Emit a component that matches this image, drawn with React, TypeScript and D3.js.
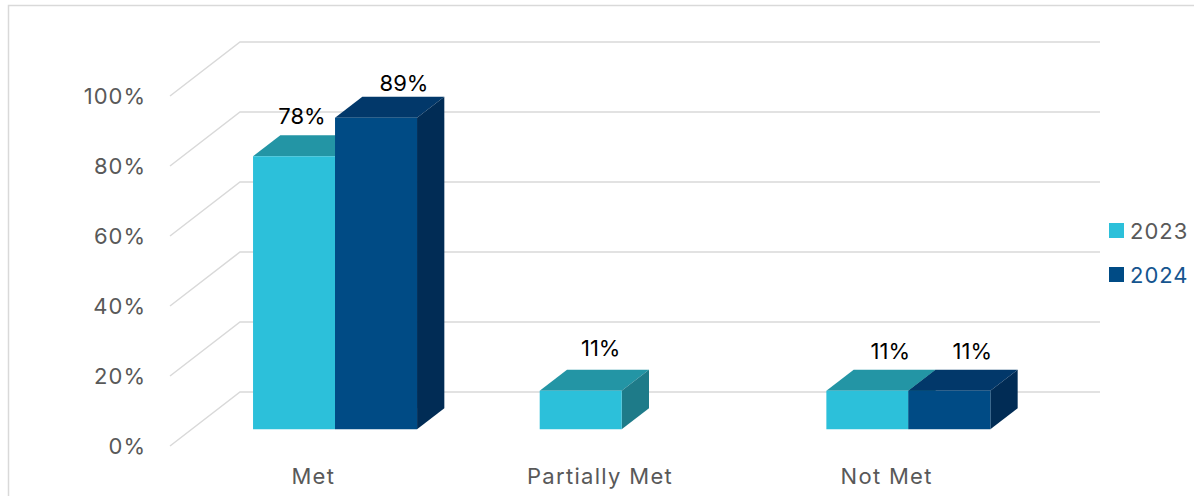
import React from "react";
import * as d3 from "d3";

const categories = ["Met", "Partially Met", "Not Met"];
const seriesNames = ["2023", "2024"];
const values2023: (number | null)[] = [0.78, 0.11, 0.11];
const values2024: (number | null)[] = [0.89, null, 0.11];
const yTicks = [0, 0.2, 0.4, 0.6, 0.8, 1.0];

// label nudges (layout only), keyed "category|series"
const labelNudge: Record<string, [number, number]> = {
  "Met|2023": [-15, 0],
  "Met|2024": [5, 5],
  "Partially Met|2023": [-3, -3],
};

const colors: Record<string, { front: string; top: string; side: string }> = {
  "2023": { front: "#2CC0DA", top: "#2395A5", side: "#1E7B89" },
  "2024": { front: "#004B85", top: "#02386A", side: "#012C55" },
};
const legendText: Record<string, string> = { "2023": "#595959", "2024": "#15558F" };

const W = 1194;
const H = 496;
const FONT = "Inter, 'Noto Sans', sans-serif";

export default function App() {
  const x0 = 170;
  const x1 = 1030;
  const floorY = 446;
  const DX = 70;
  const DY = -54;
  const t0 = 0.31;
  const t1 = 0.7;

  const xCat = d3.scaleBand<string>().domain(categories).range([x0, x1]).padding(0);
  const y = d3.scaleLinear().domain([0, 1]).range([0, 350]);
  const barW = 82;

  const proj = (x: number, v: number, t: number): [number, number] => [x + DX * t, floorY - y(v) + DY * t];
  const poly = (pts: [number, number][]) => pts.map((p) => p.join(",")).join(" ");

  const bars: any[] = [];
  const labels: any[] = [];
  const seriesData: Record<string, (number | null)[]> = { "2023": values2023, "2024": values2024 };

  categories.forEach((c, ci) => {
    const center = (xCat(c) as number) + xCat.bandwidth() / 2;
    const xs = d3.scaleBand<string>().domain(seriesNames).range([center - barW, center + barW]);
    seriesNames.forEach((s) => {
      const v = seriesData[s][ci];
      if (v == null) return;
      const left = xs(s) as number;
      const right = left + xs.bandwidth();
      const col = colors[s];
      const fBL = proj(left, 0, t0);
      const fBR = proj(right, 0, t0);
      const fTL = proj(left, v, t0);
      const fTR = proj(right, v, t0);
      const bTL = proj(left, v, t1);
      const bTR = proj(right, v, t1);
      const bBR = proj(right, 0, t1);
      bars.push(
        <g key={`${c}-${s}`}>
          <polygon points={poly([fTL, fTR, bTR, bTL])} fill={col.top} />
          <polygon points={poly([fTR, fBR, bBR, bTR])} fill={col.side} />
          <polygon points={poly([fBL, fBR, fTR, fTL])} fill={col.front} />
        </g>
      );
      const nudge = labelNudge[`${c}|${s}`] || [0, 0];
      const lx = (left + right) / 2 + DX * t0 + 23 + nudge[0];
      const ly = bTL[1] - 11 + nudge[1];
      labels.push(
        <text key={`l-${c}-${s}`} x={lx} y={ly} textAnchor="middle" fontSize={22} fill="#000" fontFamily={FONT}>
          {d3.format(".0%")(v)}
        </text>
      );
    });
  });

  return (
    <svg width={W} height={H} style={{ position: "absolute", left: 0, top: 0, background: "#fff" }}>
      <rect x={8.5} y={5.5} width={1200} height={520} fill="#fff" stroke="#d9d9d9" strokeWidth={1.5} />
      {yTicks.map((v) => {
        const a = proj(x0, v, 0);
        const b = proj(x0, v, 1);
        const c = proj(x1, v, 1);
        return (
          <polyline key={v} points={poly([a, b, c])} fill="none" stroke="#d9d9d9" strokeWidth={1.5} />
        );
      })}
      {yTicks.map((v) => {
        const a = proj(x0, v, 0);
        return (
          <text key={`t${v}`} x={146} y={a[1]} textAnchor="end" dominantBaseline="central" fontSize={22} letterSpacing={1} fill="#595959" fontFamily={FONT}>
            {d3.format(".0%")(v)}
          </text>
        );
      })}
      {bars}
      {labels}
      {categories.map((c) => (
        <text key={`c${c}`} x={(xCat(c) as number) + xCat.bandwidth() / 2} y={476} textAnchor="middle" dominantBaseline="central" fontSize={22} letterSpacing={1.3} fill="#595959" fontFamily={FONT}>
          {c}
        </text>
      ))}
      {seriesNames.map((s, i) => (
        <g key={`lg${s}`} transform={`translate(1109, ${223 + i * 44})`}>
          <rect width={15} height={15} fill={colors[s].front} />
          <text x={21} y={7.5} dominantBaseline="central" fontSize={22} letterSpacing={1} fill={legendText[s]} fontFamily={FONT}>
            {s}
          </text>
        </g>
      ))}
    </svg>
  );
}
